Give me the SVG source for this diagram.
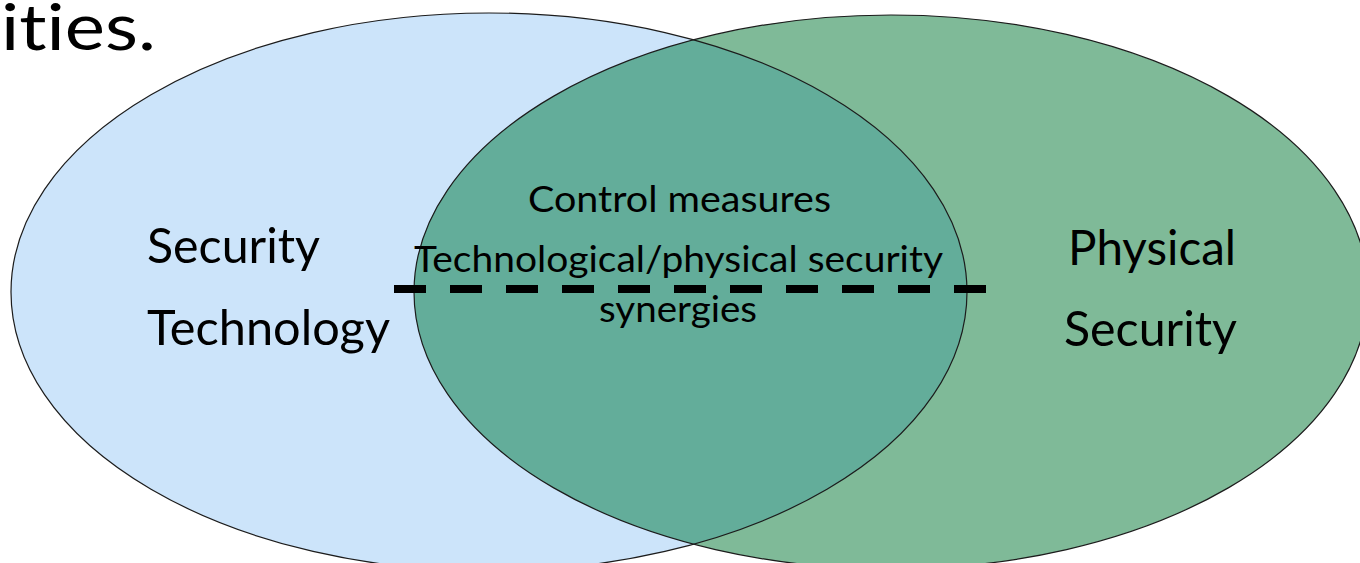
<svg xmlns="http://www.w3.org/2000/svg" width="1360" height="563" viewBox="0 0 1360 563">
  <style>
    .lbl { font-family: "Lato", "Open Sans", "Liberation Sans", sans-serif; fill: #000; font-variant-ligatures: none; }
    .big { font-size: 48px; }
    .mid { font-size: 37px; }
    .edge { fill: none; stroke: #1c1c1c; stroke-width: 1.2; }
    .dash { stroke: #000; stroke-width: 8; stroke-dasharray: 32 24; fill: none; }
  </style>
  <defs>
    <ellipse id="leftShape" cx="489" cy="292" rx="478" ry="279"/>
    <ellipse id="rightShape" cx="891" cy="292" rx="477" ry="277"/>
    <clipPath id="clipLeft"><use href="#leftShape"/></clipPath>
  </defs>

  <rect width="1360" height="563" fill="#ffffff"/>

  <!-- heading fragment at top left -->
  <text class="lbl" x="1" y="50" font-size="64" textLength="155" lengthAdjust="spacingAndGlyphs">ities.</text>

  <g id="security-technology">
    <use href="#leftShape" fill="#cce4fa"/>
    <text class="lbl big" x="147" y="263" textLength="173" lengthAdjust="spacingAndGlyphs">Security</text>
    <text class="lbl big" x="147" y="345" textLength="243" lengthAdjust="spacingAndGlyphs">Technology</text>
  </g>

  <g id="physical-security">
    <use href="#rightShape" fill="#7fba98"/>
    <text class="lbl big" x="1068" y="265" textLength="168" lengthAdjust="spacingAndGlyphs">Physical</text>
    <text class="lbl big" x="1064" y="346" textLength="173" lengthAdjust="spacingAndGlyphs">Security</text>
  </g>

  <g id="overlap">
    <use href="#rightShape" fill="#63ad9a" clip-path="url(#clipLeft)"/>
  </g>

  <!-- outlines of both sets drawn over the fills -->
  <g id="outlines">
    <use href="#leftShape" class="edge"/>
    <use href="#rightShape" class="edge"/>
  </g>

  <g id="overlap-labels">
    <text class="lbl mid" x="528" y="212" textLength="303" lengthAdjust="spacingAndGlyphs">Control measures</text>
    <text class="lbl mid" x="414" y="272" textLength="529" lengthAdjust="spacingAndGlyphs">Technological/physical security</text>
    <text class="lbl mid" x="599" y="322" textLength="158" lengthAdjust="spacingAndGlyphs">synergies</text>
  </g>

  <g id="connectors">
    <line class="dash" x1="394" y1="289" x2="986" y2="289"/>
  </g>
</svg>
